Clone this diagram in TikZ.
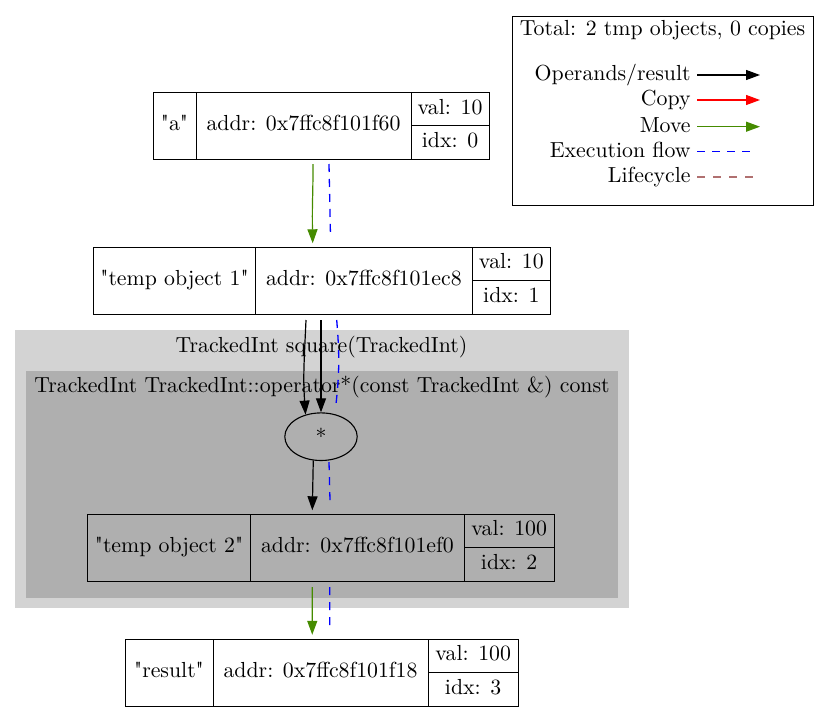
\documentclass[tikz,border=0pt]{standalone}
\usepackage{fontspec}
\usetikzlibrary{arrows.meta,shapes.geometric,calc}
\definecolor{outerc}{HTML}{D3D3D3}
\definecolor{innerc}{HTML}{AFAFAF}
\definecolor{movec}{HTML}{458B00}
\definecolor{lifec}{RGB}{176,112,112}
\newcommand\fsz{\fontsize{10.9}{13}\selectfont}
\newcommand\qq{\XeTeXglyph\XeTeXcharglyph"22\relax}
\newcommand\cellat[6]{%
  \node[cell, minimum width={(#3-#2)*0.5pt}, minimum height={(#5-#4)*0.5pt}] (#1) at ({(#2+#3)/2},{(#4+#5)/2}) {#6};}
\newcommand\recordat[9]{% name x1 x2 x3 x4 ytop ybot label addr ; val/idx via \recval \recidx
  \node[recbox, minimum width={(#5-#2)*0.5pt}, minimum height={(#7-#6)*0.5pt}] (#1) at ({(#2+#5)/2},{(#6+#7)/2}) {};
  \cellat{#1-l}{#2}{#3}{#6}{#7}{#8}
  \cellat{#1-a}{#3}{#4}{#6}{#7}{#9}
  \cellat{#1-v}{#4}{#5}{#6}{(#6+#7)/2}{\recval}
  \cellat{#1-i}{#4}{#5}{(#6+#7)/2}{#7}{\recidx}}
\tikzset{
  every node/.style={font=\fsz},
  cell/.style={draw, line width=0.5pt, inner sep=0pt, outer sep=0pt, text height=7.4pt, text depth=2.6pt},
  recbox/.style={inner sep=0pt, outer sep=0pt},
  tip/.style={-{Triangle[length=7pt,width=5pt]}},
  operand/.style={tip, line width=0.6pt, black},
  movee/.style={tip, line width=0.6pt, movec},
  copye/.style={tip, line width=0.6pt, red},
  execf/.style={line width=0.65pt, blue, dash pattern=on 4pt off 3.5pt},
  lifecyc/.style={line width=1pt, lifec, dash pattern=on 4pt off 4pt},
  clabel/.style={inner sep=0pt, anchor=base},
}
\begin{document}
\begin{tikzpicture}[x=0.5pt, y=-0.5pt]
\useasboundingbox (0,0) rectangle (829,717);
% clusters
\fill[outerc] (15,330) rectangle (628.5,608.3);
\fill[innerc] (26,371) rectangle (618,597.7);
\node[clabel] (outerlbl) at (321.5,352) {TrackedInt square(TrackedInt)};
\node[clabel] (innerlbl) at (322,392.5) {TrackedInt TrackedInt::operator*(const TrackedInt \&) const};
% records
\def\recval{val: 10}\def\recidx{idx: 0}
\recordat{a}{153}{196}{411}{489}{92.7}{159}{\qq a\qq}{addr: 0x7ffc8f101f60}
\def\recval{val: 10}\def\recidx{idx: 1}
\recordat{t1}{93.3}{255.7}{472}{550.7}{247.3}{314}{\qq temp object 1\qq}{addr: 0x7ffc8f101ec8}
\def\recval{val: 100}\def\recidx{idx: 2}
\recordat{t2}{87.3}{250.7}{464}{554.3}{514.3}{581}{\qq temp object 2\qq}{addr: 0x7ffc8f101ef0}
\def\recval{val: 100}\def\recidx{idx: 3}
\recordat{res}{125}{213}{428}{518.3}{639.3}{706.3}{\qq result\qq}{addr: 0x7ffc8f101f18}
% operator
\node[draw, ellipse, line width=0.55pt, inner sep=0pt, minimum width=36.2pt, minimum height=23.8pt] (mul) at (321,436.7) {*};
% edges
\draw[movee] ($(a.south)+(-8,5)$) .. controls ($(a.south)+(-8,40)$) and ($(t1.north)+(-10,-45)$) .. ($(t1.north)+(-9.3,-4)$);
\draw[execf] ($(a.south)+(8,5)$) -- ($(t1.north)+(8.5,-11)$);
\draw[operand] ($(t1.south)+(-16,6)$) .. controls ($(t1.south)+(-18,50)$) and ($(mul.north)+(-18,-35)$) .. (mul.125);
\draw[operand] ($(t1.south)+(-1,6)$) -- (mul.north);
\draw[execf] ($(t1.south)+(14.7,6)$) .. controls ($(t1.south)+(18,45)$) and ($(mul.north)+(18,-35)$) .. ($(mul.north)+(14.7,-5.6)$);
\draw[operand] (mul.252) -- ($(t2.north)+(-8.5,-4)$);
\draw[execf] ($(mul.south)+(8,1)$) -- ($(t2.north)+(9.2,-14)$);
\draw[movee] ($(t2.south)+(-8.5,6)$) -- ($(res.north)+(-9.4,-4.5)$);
\draw[execf] ($(t2.south)+(9,6)$) -- ($(res.north)+(8,-12.6)$);
% legend
\node[draw, line width=0.5pt, inner sep=0pt, minimum width={(813.3-512)*0.5pt}, minimum height={(205-15.7)*0.5pt}, anchor=north west] (legend) at (512,15.7) {};
\node[clabel] (ltitle) at (662.5,36) {Total: 2 tmp objects, 0 copies};
\node[inner sep=0pt, anchor=base east] (l1) at (691,80.7) {Operands/result};
\node[inner sep=0pt, anchor=base east] (l2) at (691,105.7) {Copy};
\node[inner sep=0pt, anchor=base east] (l3) at (691,132.4) {Move};
\node[inner sep=0pt, anchor=base east] (l4) at (691,157.4) {Execution flow};
\node[inner sep=0pt, anchor=base east] (l5) at (691,182.4) {Lifecycle};
\coordinate (e1) at (760,75);
\coordinate (e2) at (760,100);
\coordinate (e3) at (760,126.7);
\coordinate (e4) at (753,151.7);
\coordinate (e5) at (753,176.7);
\draw[operand] (697,75) -- (e1);
\draw[copye] (697,100) -- (e2);
\draw[movee] (697,126.7) -- (e3);
\draw[execf] (697,151.7) -- (e4);
\draw[lifecyc] (697,176.7) -- (e5);
\end{tikzpicture}
\end{document}
